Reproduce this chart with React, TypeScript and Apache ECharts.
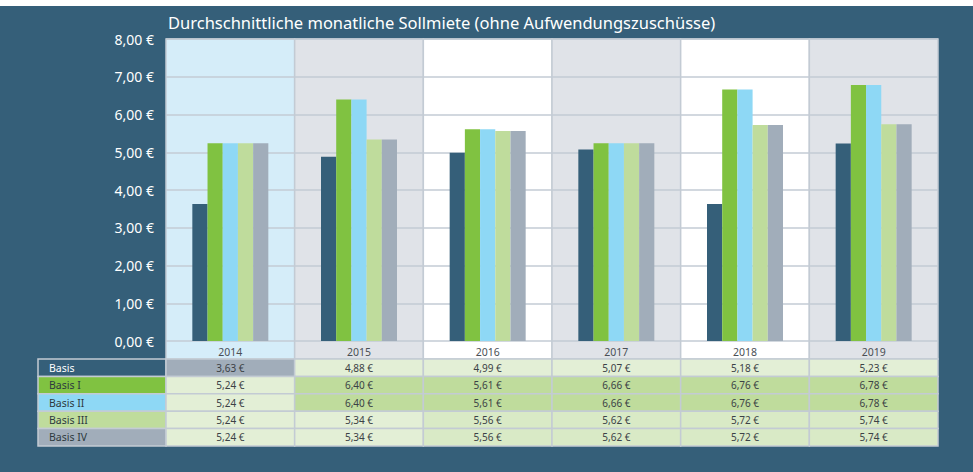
import React, { useEffect, useRef } from "react";
import * as echarts from "echarts";

const categories = ["2014", "2015", "2016", "2017", "2018", "2019"];
const seriesNames = ["Basis", "Basis I", "Basis II", "Basis III", "Basis IV"];

// bar heights as drawn in the chart
const barBasis = [3.63, 4.88, 4.99, 5.07, 3.63, 5.23];
const barBasisI = [5.24, 6.4, 5.61, 5.24, 6.66, 6.78];
const barBasisII = [5.24, 6.4, 5.61, 5.24, 6.66, 6.78];
const barBasisIII = [5.24, 5.34, 5.56, 5.24, 5.72, 5.74];
const barBasisIV = [5.24, 5.34, 5.56, 5.24, 5.72, 5.74];

// values printed in the data table
const tableBasis = [3.63, 4.88, 4.99, 5.07, 5.18, 5.23];
const tableBasisI = [5.24, 6.4, 5.61, 6.66, 6.76, 6.78];
const tableBasisII = [5.24, 6.4, 5.61, 6.66, 6.76, 6.78];
const tableBasisIII = [5.24, 5.34, 5.56, 5.62, 5.72, 5.74];
const tableBasisIV = [5.24, 5.34, 5.56, 5.62, 5.72, 5.74];

const title = "Durchschnittliche monatliche Sollmiete (ohne Aufwendungszuschüsse)";

const FONT = "Noto Sans";
const BG = "#355f79";
const GRID_LINE = "#c3cbd4";
const barColors = ["#355f79", "#80c241", "#8ed8f5", "#bfdc9c", "#a1adba"];
const colBg = ["#d5edf9", "#e0e3e8", "#ffffff", "#e0e3e8", "#ffffff", "#e0e3e8"];
const labelFill = ["#355f79", "#80c241", "#8ed8f5", "#bfdc9c", "#a1adba"];
const labelText = ["#ffffff", "#2e3a40", "#2e3a40", "#2e3a40", "#2e3a40"];

const GRID_LEFT = 166;
const GRID_TOP = 39;
const GRID_W = 772;
const GRID_H = 302;
const LABEL_ROW = 18;
const ROW_H = 17.4;
const TABLE_LEFT = 38;

const fmt = (v: number) => v.toFixed(2).replace(".", ",") + " €";

function cellColor(r: number, c: number) {
  if (r === 0) return c === 0 ? "#a1adba" : "#e3efd6";
  if (r === 1 || r === 2) return c === 0 ? "#e3efd6" : "#bfdc9c";
  return c <= 1 ? "#e3efd6" : "#d9eac6";
}

export default function App() {
  const ref = useRef<HTMLDivElement>(null);
  useEffect(() => {
    if (!ref.current) return;
    const chart = echarts.init(ref.current, undefined, { renderer: "svg" });
    const bars = [barBasis, barBasisI, barBasisII, barBasisIII, barBasisIV];
    const tables = [tableBasis, tableBasisI, tableBasisII, tableBasisIII, tableBasisIV];
    const tableData: any[] = [];
    tables.forEach((row, r) => row.forEach((v, c) => tableData.push([c, 0, r, v])));

    const graphics: any[] = [
      { type: "rect", shape: { x: 0, y: 0, width: 973, height: 6 }, style: { fill: "#ffffff" } },
      {
        type: "text",
        x: 168,
        y: 22,
        style: {
          text: title,
          fill: "#ffffff",
          fontSize: 16.5,
          fontFamily: FONT,
          verticalAlign: "middle",
        },
      },
    ];
    seriesNames.forEach((name, r) => {
      const y = GRID_TOP + GRID_H + LABEL_ROW + r * ROW_H;
      graphics.push({
        type: "rect",
        shape: { x: TABLE_LEFT, y, width: GRID_LEFT - TABLE_LEFT, height: ROW_H },
        style: { fill: labelFill[r], stroke: GRID_LINE, lineWidth: 1.5 },
      });
      graphics.push({
        type: "text",
        x: TABLE_LEFT + 11,
        y: y + ROW_H / 2,
        style: {
          text: name,
          fill: labelText[r],
          fontSize: 10.5,
          fontFamily: FONT,
          verticalAlign: "middle",
        },
      });
    });

    chart.setOption({
      animation: false,
      backgroundColor: BG,
      textStyle: { fontFamily: FONT },
      grid: { left: GRID_LEFT, top: GRID_TOP, width: GRID_W, height: GRID_H },
      xAxis: {
        type: "category",
        data: categories,
        axisLine: { show: false },
        axisTick: { show: false },
        axisLabel: { color: "#4a4f55", fontSize: 10.5, margin: 5, fontFamily: FONT },
        z: 5,
      },
      yAxis: {
        type: "value",
        min: 0,
        max: 8,
        interval: 1,
        axisLine: { show: false },
        axisTick: { show: false },
        axisLabel: {
          color: "#ffffff",
          fontSize: 14,
          margin: 12,
          fontFamily: FONT,
          formatter: (v: number) => fmt(v),
        },
        splitLine: { lineStyle: { color: GRID_LINE, width: 1.5 } },
      },
      graphic: graphics,
      series: [
        {
          type: "custom",
          z: -1,
          silent: true,
          clip: false,
          data: categories.map((_, i) => [i, 8]),
          encode: { x: 0, y: 1 },
          renderItem: (params: any, api: any) => {
            const idx = api.value(0);
            const top = api.coord([idx, 8]);
            const bottom = api.coord([idx, 0]);
            const w = api.size([1, 0])[0];
            return {
              type: "rect",
              shape: { x: top[0] - w / 2, y: top[1], width: w, height: bottom[1] - top[1] + LABEL_ROW },
              style: { fill: colBg[idx], stroke: GRID_LINE, lineWidth: 1.5 },
            };
          },
        },
        ...bars.map((d, i) => ({
          type: "bar",
          name: seriesNames[i],
          data: d,
          barWidth: 15.2,
          barGap: "0%",
          itemStyle: { color: barColors[i] },
          z: 3,
        })),
        {
          type: "custom",
          silent: true,
          clip: false,
          z: 4,
          data: tableData,
          encode: { x: 0, y: 1 },
          renderItem: (params: any, api: any) => {
            const c = api.value(0);
            const r = api.value(2);
            const v = api.value(3);
            const base = api.coord([c, 0]);
            const w = api.size([1, 0])[0];
            const y = base[1] + LABEL_ROW + r * ROW_H;
            return {
              type: "group",
              children: [
                {
                  type: "rect",
                  shape: { x: base[0] - w / 2, y, width: w, height: ROW_H },
                  style: { fill: cellColor(r, c), stroke: GRID_LINE, lineWidth: 1.5 },
                },
                {
                  type: "text",
                  x: base[0],
                  y: y + ROW_H / 2,
                  style: {
                    text: fmt(v),
                    fill: "#3c4246",
                    fontSize: 10,
                    fontFamily: FONT,
                    align: "center",
                    verticalAlign: "middle",
                  },
                },
              ],
            };
          },
        },
      ],
    });
    return () => chart.dispose();
  }, []);
  return (
    <div
      ref={ref}
      style={{ position: "absolute", left: 0, top: 0, width: 973, height: 472 }}
    />
  );
}
